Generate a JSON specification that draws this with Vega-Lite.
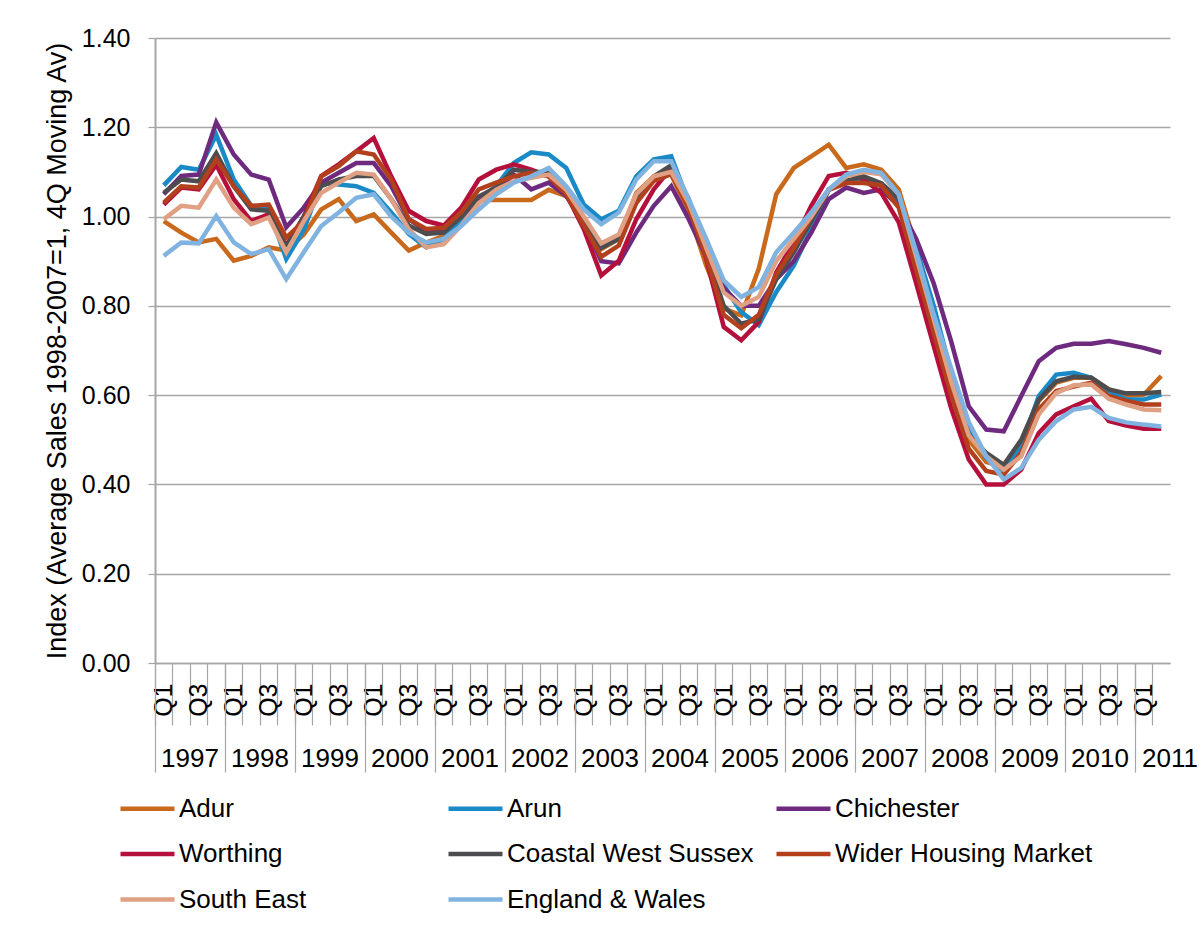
{
"$schema": "https://vega.github.io/schema/vega-lite/v6.json",
"width": 1015,
"height": 625,
"autosize": {"type": "none"},
"padding": {"left": 155, "top": 38, "right": 33, "bottom": 265},
"background": "white",
"config": {"font": "Liberation Sans", "view": {"stroke": null}},
"data": {"values": [
{"q":"1997-Q1","s":"Adur","v":0.99},{"q":"1997-Q2","s":"Adur","v":0.964},{"q":"1997-Q3","s":"Adur","v":0.942},{"q":"1997-Q4","s":"Adur","v":0.95},
{"q":"1998-Q1","s":"Adur","v":0.901},{"q":"1998-Q2","s":"Adur","v":0.912},{"q":"1998-Q3","s":"Adur","v":0.931},{"q":"1998-Q4","s":"Adur","v":0.924},
{"q":"1999-Q1","s":"Adur","v":0.96},{"q":"1999-Q2","s":"Adur","v":1.016},{"q":"1999-Q3","s":"Adur","v":1.039},{"q":"1999-Q4","s":"Adur","v":0.99},
{"q":"2000-Q1","s":"Adur","v":1.005},{"q":"2000-Q2","s":"Adur","v":0.964},{"q":"2000-Q3","s":"Adur","v":0.924},{"q":"2000-Q4","s":"Adur","v":0.942},
{"q":"2001-Q1","s":"Adur","v":0.957},{"q":"2001-Q2","s":"Adur","v":0.99},{"q":"2001-Q3","s":"Adur","v":1.037},{"q":"2001-Q4","s":"Adur","v":1.037},
{"q":"2002-Q1","s":"Adur","v":1.037},{"q":"2002-Q2","s":"Adur","v":1.037},{"q":"2002-Q3","s":"Adur","v":1.06},{"q":"2002-Q4","s":"Adur","v":1.046},
{"q":"2003-Q1","s":"Adur","v":0.994},{"q":"2003-Q2","s":"Adur","v":0.927},{"q":"2003-Q3","s":"Adur","v":0.95},{"q":"2003-Q4","s":"Adur","v":1.053},
{"q":"2004-Q1","s":"Adur","v":1.09},{"q":"2004-Q2","s":"Adur","v":1.094},{"q":"2004-Q3","s":"Adur","v":1.009},{"q":"2004-Q4","s":"Adur","v":0.89},
{"q":"2005-Q1","s":"Adur","v":0.794},{"q":"2005-Q2","s":"Adur","v":0.779},{"q":"2005-Q3","s":"Adur","v":0.883},{"q":"2005-Q4","s":"Adur","v":1.05},
{"q":"2006-Q1","s":"Adur","v":1.109},{"q":"2006-Q2","s":"Adur","v":1.135},{"q":"2006-Q3","s":"Adur","v":1.161},{"q":"2006-Q4","s":"Adur","v":1.109},
{"q":"2007-Q1","s":"Adur","v":1.117},{"q":"2007-Q2","s":"Adur","v":1.105},{"q":"2007-Q3","s":"Adur","v":1.061},{"q":"2007-Q4","s":"Adur","v":0.93},
{"q":"2008-Q1","s":"Adur","v":0.78},{"q":"2008-Q2","s":"Adur","v":0.63},{"q":"2008-Q3","s":"Adur","v":0.5},{"q":"2008-Q4","s":"Adur","v":0.45},
{"q":"2009-Q1","s":"Adur","v":0.44},{"q":"2009-Q2","s":"Adur","v":0.49},{"q":"2009-Q3","s":"Adur","v":0.587},{"q":"2009-Q4","s":"Adur","v":0.628},
{"q":"2010-Q1","s":"Adur","v":0.639},{"q":"2010-Q2","s":"Adur","v":0.639},{"q":"2010-Q3","s":"Adur","v":0.613},{"q":"2010-Q4","s":"Adur","v":0.598},
{"q":"2011-Q1","s":"Adur","v":0.601},{"q":"2011-Q2","s":"Adur","v":0.643},

{"q":"1997-Q1","s":"Arun","v":1.07},{"q":"1997-Q2","s":"Arun","v":1.111},{"q":"1997-Q3","s":"Arun","v":1.105},{"q":"1997-Q4","s":"Arun","v":1.183},
{"q":"1998-Q1","s":"Arun","v":1.083},{"q":"1998-Q2","s":"Arun","v":1.024},{"q":"1998-Q3","s":"Arun","v":1.016},{"q":"1998-Q4","s":"Arun","v":0.905},
{"q":"1999-Q1","s":"Arun","v":0.97},{"q":"1999-Q2","s":"Arun","v":1.076},{"q":"1999-Q3","s":"Arun","v":1.072},{"q":"1999-Q4","s":"Arun","v":1.068},
{"q":"2000-Q1","s":"Arun","v":1.053},{"q":"2000-Q2","s":"Arun","v":1.009},{"q":"2000-Q3","s":"Arun","v":0.961},{"q":"2000-Q4","s":"Arun","v":0.931},
{"q":"2001-Q1","s":"Arun","v":0.95},{"q":"2001-Q2","s":"Arun","v":0.99},{"q":"2001-Q3","s":"Arun","v":1.04},{"q":"2001-Q4","s":"Arun","v":1.068},
{"q":"2002-Q1","s":"Arun","v":1.12},{"q":"2002-Q2","s":"Arun","v":1.144},{"q":"2002-Q3","s":"Arun","v":1.139},{"q":"2002-Q4","s":"Arun","v":1.109},
{"q":"2003-Q1","s":"Arun","v":1.027},{"q":"2003-Q2","s":"Arun","v":0.994},{"q":"2003-Q3","s":"Arun","v":1.013},{"q":"2003-Q4","s":"Arun","v":1.09},
{"q":"2004-Q1","s":"Arun","v":1.128},{"q":"2004-Q2","s":"Arun","v":1.135},{"q":"2004-Q3","s":"Arun","v":1.031},{"q":"2004-Q4","s":"Arun","v":0.935},
{"q":"2005-Q1","s":"Arun","v":0.846},{"q":"2005-Q2","s":"Arun","v":0.786},{"q":"2005-Q3","s":"Arun","v":0.757},{"q":"2005-Q4","s":"Arun","v":0.831},
{"q":"2006-Q1","s":"Arun","v":0.89},{"q":"2006-Q2","s":"Arun","v":0.972},{"q":"2006-Q3","s":"Arun","v":1.061},{"q":"2006-Q4","s":"Arun","v":1.076},
{"q":"2007-Q1","s":"Arun","v":1.087},{"q":"2007-Q2","s":"Arun","v":1.068},{"q":"2007-Q3","s":"Arun","v":1.031},{"q":"2007-Q4","s":"Arun","v":0.93},
{"q":"2008-Q1","s":"Arun","v":0.8},{"q":"2008-Q2","s":"Arun","v":0.65},{"q":"2008-Q3","s":"Arun","v":0.52},{"q":"2008-Q4","s":"Arun","v":0.46},
{"q":"2009-Q1","s":"Arun","v":0.43},{"q":"2009-Q2","s":"Arun","v":0.486},{"q":"2009-Q3","s":"Arun","v":0.598},{"q":"2009-Q4","s":"Arun","v":0.646},
{"q":"2010-Q1","s":"Arun","v":0.65},{"q":"2010-Q2","s":"Arun","v":0.639},{"q":"2010-Q3","s":"Arun","v":0.609},{"q":"2010-Q4","s":"Arun","v":0.59},
{"q":"2011-Q1","s":"Arun","v":0.59},{"q":"2011-Q2","s":"Arun","v":0.601},

{"q":"1997-Q1","s":"Chichester","v":1.05},{"q":"1997-Q2","s":"Chichester","v":1.091},{"q":"1997-Q3","s":"Chichester","v":1.094},{"q":"1997-Q4","s":"Chichester","v":1.211},
{"q":"1998-Q1","s":"Chichester","v":1.139},{"q":"1998-Q2","s":"Chichester","v":1.094},{"q":"1998-Q3","s":"Chichester","v":1.083},{"q":"1998-Q4","s":"Chichester","v":0.976},
{"q":"1999-Q1","s":"Chichester","v":1.02},{"q":"1999-Q2","s":"Chichester","v":1.076},{"q":"1999-Q3","s":"Chichester","v":1.098},{"q":"1999-Q4","s":"Chichester","v":1.12},
{"q":"2000-Q1","s":"Chichester","v":1.12},{"q":"2000-Q2","s":"Chichester","v":1.068},{"q":"2000-Q3","s":"Chichester","v":0.994},{"q":"2000-Q4","s":"Chichester","v":0.968},
{"q":"2001-Q1","s":"Chichester","v":0.972},{"q":"2001-Q2","s":"Chichester","v":1.0},{"q":"2001-Q3","s":"Chichester","v":1.04},{"q":"2001-Q4","s":"Chichester","v":1.06},
{"q":"2002-Q1","s":"Chichester","v":1.094},{"q":"2002-Q2","s":"Chichester","v":1.061},{"q":"2002-Q3","s":"Chichester","v":1.076},{"q":"2002-Q4","s":"Chichester","v":1.046},
{"q":"2003-Q1","s":"Chichester","v":0.987},{"q":"2003-Q2","s":"Chichester","v":0.9},{"q":"2003-Q3","s":"Chichester","v":0.895},{"q":"2003-Q4","s":"Chichester","v":0.964},
{"q":"2004-Q1","s":"Chichester","v":1.024},{"q":"2004-Q2","s":"Chichester","v":1.068},{"q":"2004-Q3","s":"Chichester","v":0.994},{"q":"2004-Q4","s":"Chichester","v":0.91},
{"q":"2005-Q1","s":"Chichester","v":0.84},{"q":"2005-Q2","s":"Chichester","v":0.8},{"q":"2005-Q3","s":"Chichester","v":0.8},{"q":"2005-Q4","s":"Chichester","v":0.86},
{"q":"2006-Q1","s":"Chichester","v":0.9},{"q":"2006-Q2","s":"Chichester","v":0.964},{"q":"2006-Q3","s":"Chichester","v":1.039},{"q":"2006-Q4","s":"Chichester","v":1.065},
{"q":"2007-Q1","s":"Chichester","v":1.053},{"q":"2007-Q2","s":"Chichester","v":1.061},{"q":"2007-Q3","s":"Chichester","v":1.024},{"q":"2007-Q4","s":"Chichester","v":0.95},
{"q":"2008-Q1","s":"Chichester","v":0.85},{"q":"2008-Q2","s":"Chichester","v":0.72},{"q":"2008-Q3","s":"Chichester","v":0.575},{"q":"2008-Q4","s":"Chichester","v":0.523},
{"q":"2009-Q1","s":"Chichester","v":0.519},{"q":"2009-Q2","s":"Chichester","v":0.598},{"q":"2009-Q3","s":"Chichester","v":0.676},{"q":"2009-Q4","s":"Chichester","v":0.706},
{"q":"2010-Q1","s":"Chichester","v":0.715},{"q":"2010-Q2","s":"Chichester","v":0.715},{"q":"2010-Q3","s":"Chichester","v":0.721},{"q":"2010-Q4","s":"Chichester","v":0.714},
{"q":"2011-Q1","s":"Chichester","v":0.706},{"q":"2011-Q2","s":"Chichester","v":0.695},

{"q":"1997-Q1","s":"Worthing","v":1.027},{"q":"1997-Q2","s":"Worthing","v":1.065},{"q":"1997-Q3","s":"Worthing","v":1.061},{"q":"1997-Q4","s":"Worthing","v":1.116},
{"q":"1998-Q1","s":"Worthing","v":1.039},{"q":"1998-Q2","s":"Worthing","v":0.99},{"q":"1998-Q3","s":"Worthing","v":1.005},{"q":"1998-Q4","s":"Worthing","v":0.935},
{"q":"1999-Q1","s":"Worthing","v":1.0},{"q":"1999-Q2","s":"Worthing","v":1.091},{"q":"1999-Q3","s":"Worthing","v":1.117},{"q":"1999-Q4","s":"Worthing","v":1.146},
{"q":"2000-Q1","s":"Worthing","v":1.176},{"q":"2000-Q2","s":"Worthing","v":1.09},{"q":"2000-Q3","s":"Worthing","v":1.013},{"q":"2000-Q4","s":"Worthing","v":0.99},
{"q":"2001-Q1","s":"Worthing","v":0.98},{"q":"2001-Q2","s":"Worthing","v":1.02},{"q":"2001-Q3","s":"Worthing","v":1.083},{"q":"2001-Q4","s":"Worthing","v":1.105},
{"q":"2002-Q1","s":"Worthing","v":1.117},{"q":"2002-Q2","s":"Worthing","v":1.105},{"q":"2002-Q3","s":"Worthing","v":1.09},{"q":"2002-Q4","s":"Worthing","v":1.05},
{"q":"2003-Q1","s":"Worthing","v":0.972},{"q":"2003-Q2","s":"Worthing","v":0.868},{"q":"2003-Q3","s":"Worthing","v":0.901},{"q":"2003-Q4","s":"Worthing","v":0.994},
{"q":"2004-Q1","s":"Worthing","v":1.061},{"q":"2004-Q2","s":"Worthing","v":1.109},{"q":"2004-Q3","s":"Worthing","v":1.039},{"q":"2004-Q4","s":"Worthing","v":0.905},
{"q":"2005-Q1","s":"Worthing","v":0.753},{"q":"2005-Q2","s":"Worthing","v":0.723},{"q":"2005-Q3","s":"Worthing","v":0.764},{"q":"2005-Q4","s":"Worthing","v":0.875},
{"q":"2006-Q1","s":"Worthing","v":0.942},{"q":"2006-Q2","s":"Worthing","v":1.024},{"q":"2006-Q3","s":"Worthing","v":1.091},{"q":"2006-Q4","s":"Worthing","v":1.098},
{"q":"2007-Q1","s":"Worthing","v":1.083},{"q":"2007-Q2","s":"Worthing","v":1.053},{"q":"2007-Q3","s":"Worthing","v":0.987},{"q":"2007-Q4","s":"Worthing","v":0.85},
{"q":"2008-Q1","s":"Worthing","v":0.71},{"q":"2008-Q2","s":"Worthing","v":0.57},{"q":"2008-Q3","s":"Worthing","v":0.456},{"q":"2008-Q4","s":"Worthing","v":0.4},
{"q":"2009-Q1","s":"Worthing","v":0.4},{"q":"2009-Q2","s":"Worthing","v":0.433},{"q":"2009-Q3","s":"Worthing","v":0.515},{"q":"2009-Q4","s":"Worthing","v":0.557},
{"q":"2010-Q1","s":"Worthing","v":0.575},{"q":"2010-Q2","s":"Worthing","v":0.592},{"q":"2010-Q3","s":"Worthing","v":0.542},{"q":"2010-Q4","s":"Worthing","v":0.532},
{"q":"2011-Q1","s":"Worthing","v":0.525},{"q":"2011-Q2","s":"Worthing","v":0.525},

{"q":"1997-Q1","s":"Coastal West Sussex","v":1.053},{"q":"1997-Q2","s":"Coastal West Sussex","v":1.083},{"q":"1997-Q3","s":"Coastal West Sussex","v":1.079},{"q":"1997-Q4","s":"Coastal West Sussex","v":1.142},
{"q":"1998-Q1","s":"Coastal West Sussex","v":1.068},{"q":"1998-Q2","s":"Coastal West Sussex","v":1.016},{"q":"1998-Q3","s":"Coastal West Sussex","v":1.013},{"q":"1998-Q4","s":"Coastal West Sussex","v":0.931},
{"q":"1999-Q1","s":"Coastal West Sussex","v":1.0},{"q":"1999-Q2","s":"Coastal West Sussex","v":1.068},{"q":"1999-Q3","s":"Coastal West Sussex","v":1.083},{"q":"1999-Q4","s":"Coastal West Sussex","v":1.091},
{"q":"2000-Q1","s":"Coastal West Sussex","v":1.091},{"q":"2000-Q2","s":"Coastal West Sussex","v":1.039},{"q":"2000-Q3","s":"Coastal West Sussex","v":0.98},{"q":"2000-Q4","s":"Coastal West Sussex","v":0.961},
{"q":"2001-Q1","s":"Coastal West Sussex","v":0.964},{"q":"2001-Q2","s":"Coastal West Sussex","v":1.0},{"q":"2001-Q3","s":"Coastal West Sussex","v":1.045},{"q":"2001-Q4","s":"Coastal West Sussex","v":1.065},
{"q":"2002-Q1","s":"Coastal West Sussex","v":1.105},{"q":"2002-Q2","s":"Coastal West Sussex","v":1.1},{"q":"2002-Q3","s":"Coastal West Sussex","v":1.1},{"q":"2002-Q4","s":"Coastal West Sussex","v":1.06},
{"q":"2003-Q1","s":"Coastal West Sussex","v":0.99},{"q":"2003-Q2","s":"Coastal West Sussex","v":0.93},{"q":"2003-Q3","s":"Coastal West Sussex","v":0.95},{"q":"2003-Q4","s":"Coastal West Sussex","v":1.04},
{"q":"2004-Q1","s":"Coastal West Sussex","v":1.09},{"q":"2004-Q2","s":"Coastal West Sussex","v":1.115},{"q":"2004-Q3","s":"Coastal West Sussex","v":1.03},{"q":"2004-Q4","s":"Coastal West Sussex","v":0.92},
{"q":"2005-Q1","s":"Coastal West Sussex","v":0.8},{"q":"2005-Q2","s":"Coastal West Sussex","v":0.76},{"q":"2005-Q3","s":"Coastal West Sussex","v":0.77},{"q":"2005-Q4","s":"Coastal West Sussex","v":0.86},
{"q":"2006-Q1","s":"Coastal West Sussex","v":0.92},{"q":"2006-Q2","s":"Coastal West Sussex","v":0.99},{"q":"2006-Q3","s":"Coastal West Sussex","v":1.06},{"q":"2006-Q4","s":"Coastal West Sussex","v":1.08},
{"q":"2007-Q1","s":"Coastal West Sussex","v":1.09},{"q":"2007-Q2","s":"Coastal West Sussex","v":1.075},{"q":"2007-Q3","s":"Coastal West Sussex","v":1.04},{"q":"2007-Q4","s":"Coastal West Sussex","v":0.91},
{"q":"2008-Q1","s":"Coastal West Sussex","v":0.77},{"q":"2008-Q2","s":"Coastal West Sussex","v":0.63},{"q":"2008-Q3","s":"Coastal West Sussex","v":0.51},{"q":"2008-Q4","s":"Coastal West Sussex","v":0.471},
{"q":"2009-Q1","s":"Coastal West Sussex","v":0.444},{"q":"2009-Q2","s":"Coastal West Sussex","v":0.5},{"q":"2009-Q3","s":"Coastal West Sussex","v":0.59},{"q":"2009-Q4","s":"Coastal West Sussex","v":0.631},
{"q":"2010-Q1","s":"Coastal West Sussex","v":0.641},{"q":"2010-Q2","s":"Coastal West Sussex","v":0.639},{"q":"2010-Q3","s":"Coastal West Sussex","v":0.613},{"q":"2010-Q4","s":"Coastal West Sussex","v":0.604},
{"q":"2011-Q1","s":"Coastal West Sussex","v":0.604},{"q":"2011-Q2","s":"Coastal West Sussex","v":0.607},

{"q":"1997-Q1","s":"Wider Housing Market","v":1.031},{"q":"1997-Q2","s":"Wider Housing Market","v":1.068},{"q":"1997-Q3","s":"Wider Housing Market","v":1.065},{"q":"1997-Q4","s":"Wider Housing Market","v":1.128},
{"q":"1998-Q1","s":"Wider Housing Market","v":1.068},{"q":"1998-Q2","s":"Wider Housing Market","v":1.024},{"q":"1998-Q3","s":"Wider Housing Market","v":1.027},{"q":"1998-Q4","s":"Wider Housing Market","v":0.953},
{"q":"1999-Q1","s":"Wider Housing Market","v":0.99},{"q":"1999-Q2","s":"Wider Housing Market","v":1.09},{"q":"1999-Q3","s":"Wider Housing Market","v":1.113},{"q":"1999-Q4","s":"Wider Housing Market","v":1.146},
{"q":"2000-Q1","s":"Wider Housing Market","v":1.139},{"q":"2000-Q2","s":"Wider Housing Market","v":1.083},{"q":"2000-Q3","s":"Wider Housing Market","v":0.994},{"q":"2000-Q4","s":"Wider Housing Market","v":0.972},
{"q":"2001-Q1","s":"Wider Housing Market","v":0.975},{"q":"2001-Q2","s":"Wider Housing Market","v":1.01},{"q":"2001-Q3","s":"Wider Housing Market","v":1.061},{"q":"2001-Q4","s":"Wider Housing Market","v":1.076},
{"q":"2002-Q1","s":"Wider Housing Market","v":1.09},{"q":"2002-Q2","s":"Wider Housing Market","v":1.098},{"q":"2002-Q3","s":"Wider Housing Market","v":1.09},{"q":"2002-Q4","s":"Wider Housing Market","v":1.05},
{"q":"2003-Q1","s":"Wider Housing Market","v":0.98},{"q":"2003-Q2","s":"Wider Housing Market","v":0.91},{"q":"2003-Q3","s":"Wider Housing Market","v":0.935},{"q":"2003-Q4","s":"Wider Housing Market","v":1.03},
{"q":"2004-Q1","s":"Wider Housing Market","v":1.08},{"q":"2004-Q2","s":"Wider Housing Market","v":1.095},{"q":"2004-Q3","s":"Wider Housing Market","v":1.02},{"q":"2004-Q4","s":"Wider Housing Market","v":0.91},
{"q":"2005-Q1","s":"Wider Housing Market","v":0.78},{"q":"2005-Q2","s":"Wider Housing Market","v":0.75},{"q":"2005-Q3","s":"Wider Housing Market","v":0.78},{"q":"2005-Q4","s":"Wider Housing Market","v":0.87},
{"q":"2006-Q1","s":"Wider Housing Market","v":0.93},{"q":"2006-Q2","s":"Wider Housing Market","v":1.0},{"q":"2006-Q3","s":"Wider Housing Market","v":1.06},{"q":"2006-Q4","s":"Wider Housing Market","v":1.075},
{"q":"2007-Q1","s":"Wider Housing Market","v":1.075},{"q":"2007-Q2","s":"Wider Housing Market","v":1.07},{"q":"2007-Q3","s":"Wider Housing Market","v":1.02},{"q":"2007-Q4","s":"Wider Housing Market","v":0.88},
{"q":"2008-Q1","s":"Wider Housing Market","v":0.74},{"q":"2008-Q2","s":"Wider Housing Market","v":0.6},{"q":"2008-Q3","s":"Wider Housing Market","v":0.48},{"q":"2008-Q4","s":"Wider Housing Market","v":0.43},
{"q":"2009-Q1","s":"Wider Housing Market","v":0.422},{"q":"2009-Q2","s":"Wider Housing Market","v":0.471},{"q":"2009-Q3","s":"Wider Housing Market","v":0.568},{"q":"2009-Q4","s":"Wider Housing Market","v":0.609},
{"q":"2010-Q1","s":"Wider Housing Market","v":0.619},{"q":"2010-Q2","s":"Wider Housing Market","v":0.628},{"q":"2010-Q3","s":"Wider Housing Market","v":0.598},{"q":"2010-Q4","s":"Wider Housing Market","v":0.587},
{"q":"2011-Q1","s":"Wider Housing Market","v":0.579},{"q":"2011-Q2","s":"Wider Housing Market","v":0.579},

{"q":"1997-Q1","s":"South East","v":0.994},{"q":"1997-Q2","s":"South East","v":1.024},{"q":"1997-Q3","s":"South East","v":1.02},{"q":"1997-Q4","s":"South East","v":1.083},
{"q":"1998-Q1","s":"South East","v":1.02},{"q":"1998-Q2","s":"South East","v":0.983},{"q":"1998-Q3","s":"South East","v":0.998},{"q":"1998-Q4","s":"South East","v":0.92},
{"q":"1999-Q1","s":"South East","v":0.99},{"q":"1999-Q2","s":"South East","v":1.053},{"q":"1999-Q3","s":"South East","v":1.076},{"q":"1999-Q4","s":"South East","v":1.098},
{"q":"2000-Q1","s":"South East","v":1.094},{"q":"2000-Q2","s":"South East","v":1.039},{"q":"2000-Q3","s":"South East","v":0.972},{"q":"2000-Q4","s":"South East","v":0.931},
{"q":"2001-Q1","s":"South East","v":0.938},{"q":"2001-Q2","s":"South East","v":0.98},{"q":"2001-Q3","s":"South East","v":1.03},{"q":"2001-Q4","s":"South East","v":1.06},
{"q":"2002-Q1","s":"South East","v":1.079},{"q":"2002-Q2","s":"South East","v":1.087},{"q":"2002-Q3","s":"South East","v":1.094},{"q":"2002-Q4","s":"South East","v":1.06},
{"q":"2003-Q1","s":"South East","v":1.0},{"q":"2003-Q2","s":"South East","v":0.94},{"q":"2003-Q3","s":"South East","v":0.96},{"q":"2003-Q4","s":"South East","v":1.05},
{"q":"2004-Q1","s":"South East","v":1.09},{"q":"2004-Q2","s":"South East","v":1.1},{"q":"2004-Q3","s":"South East","v":1.03},{"q":"2004-Q4","s":"South East","v":0.93},
{"q":"2005-Q1","s":"South East","v":0.83},{"q":"2005-Q2","s":"South East","v":0.8},{"q":"2005-Q3","s":"South East","v":0.82},{"q":"2005-Q4","s":"South East","v":0.9},
{"q":"2006-Q1","s":"South East","v":0.95},{"q":"2006-Q2","s":"South East","v":1.0},{"q":"2006-Q3","s":"South East","v":1.06},{"q":"2006-Q4","s":"South East","v":1.09},
{"q":"2007-Q1","s":"South East","v":1.1},{"q":"2007-Q2","s":"South East","v":1.095},{"q":"2007-Q3","s":"South East","v":1.05},{"q":"2007-Q4","s":"South East","v":0.91},
{"q":"2008-Q1","s":"South East","v":0.77},{"q":"2008-Q2","s":"South East","v":0.63},{"q":"2008-Q3","s":"South East","v":0.51},{"q":"2008-Q4","s":"South East","v":0.463},
{"q":"2009-Q1","s":"South East","v":0.433},{"q":"2009-Q2","s":"South East","v":0.463},{"q":"2009-Q3","s":"South East","v":0.557},{"q":"2009-Q4","s":"South East","v":0.605},
{"q":"2010-Q1","s":"South East","v":0.622},{"q":"2010-Q2","s":"South East","v":0.624},{"q":"2010-Q3","s":"South East","v":0.592},{"q":"2010-Q4","s":"South East","v":0.579},
{"q":"2011-Q1","s":"South East","v":0.568},{"q":"2011-Q2","s":"South East","v":0.566},

{"q":"1997-Q1","s":"England & Wales","v":0.912},{"q":"1997-Q2","s":"England & Wales","v":0.942},{"q":"1997-Q3","s":"England & Wales","v":0.94},{"q":"1997-Q4","s":"England & Wales","v":1.001},
{"q":"1998-Q1","s":"England & Wales","v":0.942},{"q":"1998-Q2","s":"England & Wales","v":0.916},{"q":"1998-Q3","s":"England & Wales","v":0.927},{"q":"1998-Q4","s":"England & Wales","v":0.86},
{"q":"1999-Q1","s":"England & Wales","v":0.92},{"q":"1999-Q2","s":"England & Wales","v":0.979},{"q":"1999-Q3","s":"England & Wales","v":1.009},{"q":"1999-Q4","s":"England & Wales","v":1.042},
{"q":"2000-Q1","s":"England & Wales","v":1.05},{"q":"2000-Q2","s":"England & Wales","v":1.0},{"q":"2000-Q3","s":"England & Wales","v":0.964},{"q":"2000-Q4","s":"England & Wales","v":0.942},
{"q":"2001-Q1","s":"England & Wales","v":0.95},{"q":"2001-Q2","s":"England & Wales","v":0.979},{"q":"2001-Q3","s":"England & Wales","v":1.016},{"q":"2001-Q4","s":"England & Wales","v":1.05},
{"q":"2002-Q1","s":"England & Wales","v":1.076},{"q":"2002-Q2","s":"England & Wales","v":1.09},{"q":"2002-Q3","s":"England & Wales","v":1.109},{"q":"2002-Q4","s":"England & Wales","v":1.068},
{"q":"2003-Q1","s":"England & Wales","v":1.016},{"q":"2003-Q2","s":"England & Wales","v":0.983},{"q":"2003-Q3","s":"England & Wales","v":1.009},{"q":"2003-Q4","s":"England & Wales","v":1.083},
{"q":"2004-Q1","s":"England & Wales","v":1.124},{"q":"2004-Q2","s":"England & Wales","v":1.124},{"q":"2004-Q3","s":"England & Wales","v":1.039},{"q":"2004-Q4","s":"England & Wales","v":0.95},
{"q":"2005-Q1","s":"England & Wales","v":0.857},{"q":"2005-Q2","s":"England & Wales","v":0.82},{"q":"2005-Q3","s":"England & Wales","v":0.842},{"q":"2005-Q4","s":"England & Wales","v":0.92},
{"q":"2006-Q1","s":"England & Wales","v":0.964},{"q":"2006-Q2","s":"England & Wales","v":1.009},{"q":"2006-Q3","s":"England & Wales","v":1.061},{"q":"2006-Q4","s":"England & Wales","v":1.094},
{"q":"2007-Q1","s":"England & Wales","v":1.105},{"q":"2007-Q2","s":"England & Wales","v":1.098},{"q":"2007-Q3","s":"England & Wales","v":1.05},{"q":"2007-Q4","s":"England & Wales","v":0.92},
{"q":"2008-Q1","s":"England & Wales","v":0.78},{"q":"2008-Q2","s":"England & Wales","v":0.66},{"q":"2008-Q3","s":"England & Wales","v":0.54},{"q":"2008-Q4","s":"England & Wales","v":0.463},
{"q":"2009-Q1","s":"England & Wales","v":0.411},{"q":"2009-Q2","s":"England & Wales","v":0.437},{"q":"2009-Q3","s":"England & Wales","v":0.5},{"q":"2009-Q4","s":"England & Wales","v":0.542},
{"q":"2010-Q1","s":"England & Wales","v":0.568},{"q":"2010-Q2","s":"England & Wales","v":0.574},{"q":"2010-Q3","s":"England & Wales","v":0.549},{"q":"2010-Q4","s":"England & Wales","v":0.539},
{"q":"2011-Q1","s":"England & Wales","v":0.534},{"q":"2011-Q2","s":"England & Wales","v":0.53}
]},
"layer": [
{
"mark": {"type": "line", "strokeWidth": 4.5},
"encoding": {
"x": {"field": "q", "type": "ordinal",
 "scale": {"type": "band", "paddingInner": 0, "paddingOuter": 0},
 "axis": {"orient": "bottom", "title": null, "bandPosition": 0, "tickSize": 62, "tickColor": "#A6A6A6", "tickWidth": 1.2,
  "domainColor": "#A6A6A6", "domainWidth": 1.5, "grid": false,
  "labelAngle": 270, "labelFontSize": 25, "labelColor": "black", "labelPadding": -42, "labelOverlap": false,
  "labelExpr": "slice(datum.value,5)=='Q1' || slice(datum.value,5)=='Q3' ? slice(datum.value,5) : ''"}},
"y": {"field": "v", "type": "quantitative",
 "scale": {"domain": [0, 1.4], "nice": false, "zero": true},
 "axis": {"title": "Index (Average Sales 1998-2007=1, 4Q Moving Av)", "values": [0, 0.2, 0.4, 0.6, 0.8, 1.0, 1.2, 1.4], "format": ".2f",
  "grid": true, "gridColor": "#A6A6A6", "gridWidth": 1.3, "domainColor": "#A6A6A6", "domainWidth": 2,
  "tickColor": "#A6A6A6", "tickSize": 7, "tickWidth": 1.2,
  "labelFontSize": 25, "labelColor": "black", "labelPadding": 18,
  "titleFontSize": 27, "titleFontWeight": "normal", "titleColor": "black", "titlePadding": 10}},
"color": {"field": "s", "type": "nominal",
 "scale": {"domain": ["Adur", "Arun", "Chichester", "Worthing", "Coastal West Sussex", "Wider Housing Market", "South East", "England & Wales"],
  "range": ["#C8691C", "#1A8AC6", "#6E2A7E", "#B5103C", "#4D4D4F", "#B3401C", "#DFA084", "#80B3E0"]},
 "legend": {"orient": "none", "legendX": -37, "legendY": 741, "direction": "horizontal", "columns": 3, "title": null,
  "symbolType": "stroke", "symbolSize": 2916, "symbolStrokeWidth": 4.5, "gridAlign": "all", "labelFontSize": 26, "labelColor": "black",
  "labelOffset": 2, "columnPadding": 2, "rowPadding": 2.5, "labelLimit": 400}}
}
},
{
"mark": {"type": "point", "opacity": 0},
"encoding": {
"x": {"field": "q", "type": "ordinal",
 "scale": {"type": "band", "paddingInner": 0, "paddingOuter": 0},
 "axis": {"orient": "bottom", "title": null, "domain": false, "grid": false,
  "values": ["1997-Q1","1998-Q1","1999-Q1","2000-Q1","2001-Q1","2002-Q1","2003-Q1","2004-Q1","2005-Q1","2006-Q1","2007-Q1","2008-Q1","2009-Q1","2010-Q1","2011-Q1"],
  "bandPosition": 0, "tickSize": 109, "tickColor": "#A6A6A6", "tickWidth": 1.2,
  "labelAngle": 0, "labelAlign": "center", "labelBaseline": "middle", "labelFontSize": 26, "labelColor": "black",
  "labelPadding": -14, "labelOverlap": false, "labelOffset": 26.25,
  "labelExpr": "slice(datum.value,0,4)"}}
}
}
],
"resolve": {"axis": {"x": "independent"}}
}
